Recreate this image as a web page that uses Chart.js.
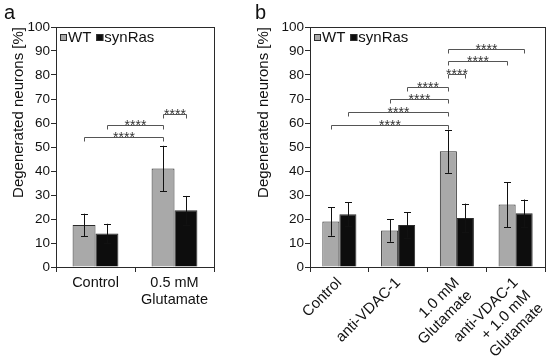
<!DOCTYPE html>
<html>
<head>
<meta charset="utf-8">
<script src="https://cdn.jsdelivr.net/npm/chart.js@4/dist/chart.umd.min.js"></script>
<style>
  body { margin: 0; background: #fff; }
  #wrap { position: relative; width: 550px; height: 357px; }
  #chartA { position: absolute; left: 0; top: 0; }
  #chartB { position: absolute; left: 245px; top: 0; }
</style>
</head>
<body>
<div id="wrap">
  <canvas id="chartA" width="240" height="357"></canvas>
  <canvas id="chartB" width="305" height="357"></canvas>
</div>
<script>
// panel a
const catsA = ["Control", ["0.5 mM", "Glutamate"]];
const wtA = [17.5, 41];
const wtErrA = [4.7, 9.5];
const synA = [14, 23.6];
const synErrA = [4, 6];
// significance brackets: [fromDataset, fromCat, toDataset, toCat, level]
const sigA = [[0, 0, 0, 1, 54], [1, 0, 0, 1, 59], [0, 1, 1, 1, 63.6]];

// panel b
const catsB = ["Control", "anti-VDAC-1", ["1.0 mM", "Glutamate"], ["anti-VDAC-1", "+ 1.0 mM", "Glutamate"]];
const wtB = [19, 15.2, 48.2, 26];
const wtErrB = [6, 4.7, 9, 9.4];
const synB = [22, 17.5, 20.4, 22.4];
const synErrB = [5, 5.3, 6, 5.7];
const sigB = [[0, 0, 0, 2, 59.3], [1, 0, 0, 2, 64.4], [0, 1, 0, 2, 69.9], [1, 1, 0, 2, 75],
              [0, 2, 1, 2, 80.6], [0, 2, 0, 3, 85.8], [0, 2, 1, 3, 90.8]];

const yTicks = [0, 10, 20, 30, 40, 50, 60, 70, 80, 90, 100];
const seriesNames = ["WT", "synRas"];

const FONT = "'Liberation Sans', Arial, sans-serif";
const GRAY = "#a9a9a9";
const BLACK = "#0d0d0d";
const EDGE = "#2a2a2a";

// draws error bars, brackets, legend, frame and panel letter
const extras = {
    id: "extras",
    afterDatasetsDraw(chart, args, opts) {
        const ctx = chart.ctx;
        const y = chart.scales.y;
        const area = chart.chartArea;
        ctx.save();

        // frame (top + right)
        ctx.strokeStyle = EDGE;
        ctx.lineWidth = 1;
        ctx.strokeRect(Math.round(area.left) + 0.5, Math.round(area.top) + 0.5,
            Math.round(area.right - area.left), Math.round(area.bottom - area.top));

        // error bars
        ctx.strokeStyle = "#111";
        opts.errors.forEach((errs, di) => {
            const meta = chart.getDatasetMeta(di);
            meta.data.forEach((bar, i) => {
                const v = chart.data.datasets[di].data[i];
                const x = Math.round(bar.x) + 0.5;
                const yt = y.getPixelForValue(v + errs[i]);
                const yb = y.getPixelForValue(v - errs[i]);
                ctx.beginPath();
                ctx.moveTo(x, yt); ctx.lineTo(x, yb);
                ctx.moveTo(x - 3.5, Math.round(yt) + 0.5); ctx.lineTo(x + 3.5, Math.round(yt) + 0.5);
                ctx.moveTo(x - 3.5, Math.round(yb) + 0.5); ctx.lineTo(x + 3.5, Math.round(yb) + 0.5);
                ctx.stroke();
            });
        });

        // significance brackets
        opts.sig.forEach(s => {
            const x1 = Math.round(chart.getDatasetMeta(s[0]).data[s[1]].x) + 0.5;
            const x2 = Math.round(chart.getDatasetMeta(s[2]).data[s[3]].x) + 0.5;
            const yy = Math.round(y.getPixelForValue(s[4])) + 0.5;
            ctx.strokeStyle = "#555";
            ctx.beginPath();
            ctx.moveTo(x1, yy + 4); ctx.lineTo(x1, yy); ctx.lineTo(x2, yy); ctx.lineTo(x2, yy + 4);
            ctx.stroke();
            ctx.fillStyle = "#333";
            ctx.font = "14px " + FONT;
            ctx.textAlign = "center";
            ctx.textBaseline = "alphabetic";
            ctx.fillText("****", (x1 + x2) / 2, yy + 4);
        });

        // legend inside top-left
        let lx = area.left + 4;
        const ly = area.top + 7;
        ctx.font = "15px " + FONT;
        ctx.textAlign = "left";
        ctx.textBaseline = "alphabetic";
        chart.data.datasets.forEach(ds => {
            ctx.fillStyle = ds.backgroundColor;
            ctx.fillRect(lx, ly, 7, 7);
            ctx.strokeStyle = EDGE;
            ctx.strokeRect(lx + 0.5, ly + 0.5, 6, 6);
            ctx.fillStyle = "#111";
            ctx.fillText(ds.label, lx + 8, ly + 8);
            lx += 8 + ctx.measureText(ds.label).width + 5;
        });

        // panel letter
        ctx.font = "20px " + FONT;
        ctx.fillStyle = "#111";
        ctx.fillText(opts.letter, opts.letterX, 19);
        ctx.restore();
    }
};

function makeChart(id, cats, wt, wtErr, syn, synErr, sig, letter, letterX, yWidth, padRight, rotate, labelSize) {
    return new Chart(document.getElementById(id), {
        type: "bar",
        data: {
            labels: cats,
            datasets: [
                { label: seriesNames[0], data: wt, backgroundColor: GRAY, borderColor: EDGE, borderWidth: 1 },
                { label: seriesNames[1], data: syn, backgroundColor: BLACK, borderColor: EDGE, borderWidth: 1 }
            ]
        },
        options: {
            responsive: false,
            animation: false,
            layout: { padding: { top: 27, right: padRight, left: 0, bottom: 0 } },
            datasets: { bar: { barPercentage: 1, categoryPercentage: 0.58 } },
            scales: {
                x: {
                    grid: { offset: true, drawOnChartArea: false, tickLength: 5, color: EDGE },
                    border: { color: EDGE },
                    ticks: {
                        color: "#111",
                        font: { family: FONT, size: labelSize },
                        autoSkip: false,
                        maxRotation: rotate, minRotation: rotate,
                        padding: 2
                    },
                    afterFit: s => { s.height = 90; s.paddingLeft = 0; s.paddingRight = 0; }
                },
                y: {
                    min: 0, max: 100,
                    afterBuildTicks: s => { s.ticks = yTicks.map(v => ({ value: v })); },
                    grid: { drawOnChartArea: false, tickLength: 5, color: EDGE },
                    border: { color: EDGE },
                    ticks: { color: "#111", font: { family: FONT, size: 13.5 }, padding: 1 },
                    title: {
                        display: true,
                        align: "end",
                        text: "Degenerated neurons [%]",
                        color: "#111",
                        font: { family: FONT, size: 15 },
                        padding: { top: 10, bottom: 0 }
                    },
                    afterFit: s => { s.width = yWidth; s.paddingTop = 0; s.paddingBottom = 0; }
                }
            },
            plugins: {
                legend: { display: false },
                tooltip: { enabled: false },
                extras: {
                    errors: [wtErr, synErr],
                    sig: sig,
                    letter: letter,
                    letterX: letterX
                }
            }
        },
        plugins: [extras]
    });
}

makeChart("chartA", catsA, wtA, wtErrA, synA, synErrA, sigA, "a", 4, 56, 26, 0, 14.5);
makeChart("chartB", catsB, wtB, wtErrB, synB, synErrB, sigB, "b", 10, 65, 5, 45, 15);
</script>
</body>
</html>
